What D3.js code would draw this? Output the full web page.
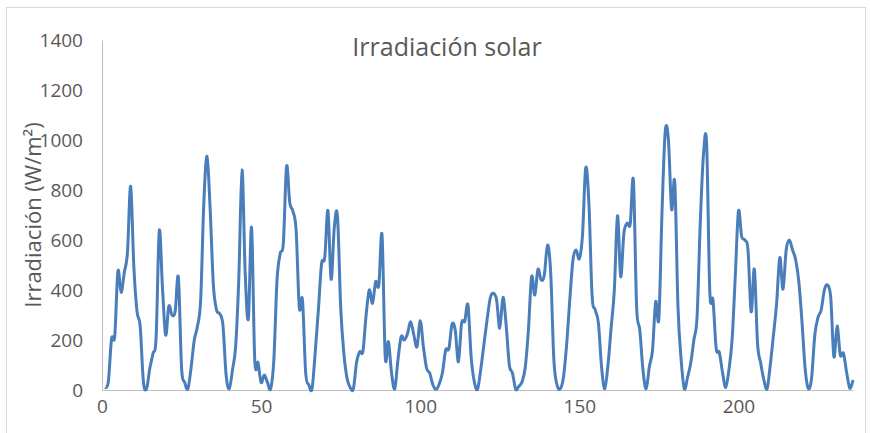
<!DOCTYPE html>
<html>
<head>
<meta charset="utf-8">
<script src="https://cdn.jsdelivr.net/npm/d3@7"></script>
<style>
  body { margin: 0; background: #fff; }
  text { font-family: "Open Sans", "Noto Sans", sans-serif; fill: #595959; }
</style>
</head>
<body>
<svg width="870" height="433"></svg>
<script>
var title = "Irradiación solar";
var yLabel = "Irradiación (W/m²)";
var xTicks = [0, 50, 100, 150, 200];
var yTicks = [0, 200, 400, 600, 800, 1000, 1200, 1400];

// irradiance, one value per sample (x = 1, 2, 3, ...)
var irradiance = [
  10, 35, 205, 215, 475, 390, 470, 550, 815, 495,
  315, 255, 35, 5, 85, 145, 210, 637, 410, 220,
  335, 300, 315, 450, 90, 30, 5, 90, 200, 255,
  360, 750, 935, 720, 420, 320, 305, 260, 60, 5,
  80, 175, 450, 880, 467, 285, 650, 120, 110, 30,
  60, 30, 5, 120, 440, 545, 590, 895, 750, 715,
  640, 330, 360, 70, 20, 5, 150, 320, 505, 530,
  718, 443, 650, 695, 333, 147, 47, 10, 5, 110,
  153, 155, 300, 400, 347, 433, 420, 620, 133, 193,
  67, 5, 120, 213, 200, 225, 273, 220, 173, 277,
  173, 87, 67, 20, 3, 25, 70, 160, 165, 263,
  240, 113, 267, 275, 340, 133, 33, 3, 80, 180,
  280, 367, 387, 360, 247, 371, 260, 100, 67, 3,
  15, 33, 90, 240, 453, 380, 483, 440, 460, 580,
  470, 120, 20, 5, 50, 180, 360, 520, 560, 525,
  620, 888, 750, 380, 320, 267, 90, 5, 100, 250,
  400, 697, 453, 627, 667, 665, 838, 333, 240, 80,
  5, 93, 160, 353, 287, 720, 1035, 1000, 723, 830,
  333, 120, 5, 50, 107, 200, 293, 667, 940, 985,
  393, 360, 167, 150, 70, 10, 80, 200, 453, 715,
  615, 600, 560, 313, 483, 187, 107, 40, 5, 100,
  220, 347, 530, 403, 560, 600, 560, 520, 430, 267,
  80, 5, 50, 220, 290, 320, 400, 420, 370, 133,
  256, 140, 147, 70, 7, 40
];

var data = irradiance.map((v, i) => {
  return {'x': i + 1, 'v': v};
});

var svg = d3.select("svg");

// chart frame
svg.append("rect")
  .attr("x", 6.5)
  .attr("y", 7.5)
  .attr("width", 859)
  .attr("height", 440)
  .attr("fill", "none")
  .attr("stroke", "#d9d9d9");

var plotLeft = 102, plotRight = 853, plotTop = 40, plotBottom = 390;

var xScale = d3.scaleLinear()
  .domain([0, data.length])
  .range([plotLeft, plotRight]);

var yScale = d3.scaleLinear()
  .domain([0, 1400])
  .range([plotBottom, plotTop]);

var yAxis = d3.axisLeft(yScale)
  .tickValues(yTicks)
  .tickFormat(d3.format("d"))
  .tickSize(0)
  .tickPadding(19);

var gy = svg.append("g")
  .attr("transform", `translate(${plotLeft}, 0)`)
  .call(yAxis);
gy.select(".domain").attr("stroke", "#bfbfbf");
gy.selectAll("text")
  .attr("font-size", 19)
  .style("fill", "#595959");

var xAxis = d3.axisBottom(xScale)
  .tickValues(xTicks)
  .tickSize(0)
  .tickPadding(10);

var gx = svg.append("g")
  .attr("transform", `translate(0, ${plotBottom})`)
  .call(xAxis);
gx.select(".domain").attr("stroke", "#bfbfbf");
gx.selectAll("text")
  .attr("font-size", 19)
  .style("fill", "#595959");

var lineGenerator = d3.line()
  .x((d) => {return xScale(d.x);})
  .y((d) => {return yScale(d.v);})
  .curve(d3.curveCatmullRom.alpha(0));

svg.append("path")
  .attr("d", lineGenerator(data))
  .attr("fill", "none")
  .attr("stroke", "#4a7ebb")
  .attr("stroke-width", 3)
  .attr("stroke-linejoin", "round");

svg.append("text")
  .attr("x", 447)
  .attr("y", 56)
  .attr("text-anchor", "middle")
  .attr("font-size", 25)
  .text(title);

svg.append("text")
  .attr("transform", `translate(41, 215) rotate(-90)`)
  .attr("text-anchor", "middle")
  .attr("font-size", 22)
  .text(yLabel);
</script>
</body>
</html>
